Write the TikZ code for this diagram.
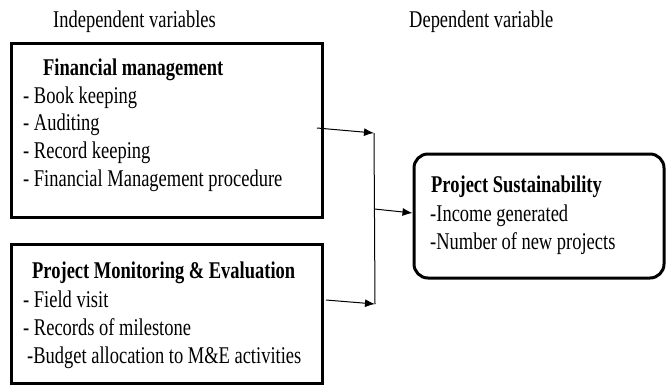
\documentclass[tikz,border=0pt]{standalone}
\usepackage{graphicx}
\usepackage{fontspec}
\setmainfont{Liberation Serif}
\usetikzlibrary{arrows.meta}
\newcommand{\narrowtxt}[1]{\scalebox{0.77}[1]{#1}}
\begin{document}
\begin{tikzpicture}[x=1pt,y=-1pt,
  box/.style={draw, line width=3pt, anchor=north west, inner sep=0pt, outer sep=0pt},
  txt/.style={anchor=base west, inner sep=0pt, font=\fontsize{24}{28}\selectfont},
  conn/.style={line width=1pt},
  arr/.style={-{Latex[length=10pt,width=8pt]}, line width=1pt}]
\useasboundingbox (0,0) rectangle (666,386);
% boxes
\node[box, minimum width=310.5pt, minimum height=174pt] (fm) at (11.5,43.5) {};
\node[box, minimum width=310.5pt, minimum height=139.5pt] (me) at (11.5,244) {};
\node[box, rounded corners=14pt, minimum width=250pt, minimum height=124pt] (ps) at (414,154) {};
% headers
\node[txt] (h1) at (53,27) {\narrowtxt{Independent variables}};
\node[txt] (h2) at (409,27) {\narrowtxt{Dependent variable}};
% box 1 text
\node[txt] (t1) at (43,75) {\narrowtxt{\textbf{Financial management}}};
\node[txt] (t2) at (23,103) {\narrowtxt{- Book keeping}};
\node[txt] (t3) at (23,130) {\narrowtxt{- Auditing}};
\node[txt] (t4) at (23,158) {\narrowtxt{- Record keeping}};
\node[txt] (t5) at (23,186) {\narrowtxt{- Financial Management procedure}};
% box 2 text
\node[txt] (u1) at (32,278) {\narrowtxt{\textbf{Project Monitoring \& Evaluation}}};
\node[txt] (u2) at (23,307) {\narrowtxt{- Field visit}};
\node[txt] (u3) at (23,335) {\narrowtxt{- Records of milestone}};
\node[txt] (u4) at (27,363) {\narrowtxt{-Budget allocation to M\&E activities}};
% box 3 text
\node[txt] (v1) at (431,192) {\narrowtxt{\textbf{Project Sustainability}}};
\node[txt] (v2) at (430,221) {\narrowtxt{-Income generated}};
\node[txt] (v3) at (430,249) {\narrowtxt{-Number of new projects}};
% connector points
\coordinate (a1) at (317,128);
\coordinate (j1) at (374,133);
\coordinate (a2) at (326,300);
\coordinate (j2) at (375,304);
\coordinate (m1) at (374.5,209);
\coordinate (m2) at (412.5,213);
% connectors
\draw[conn] (j1) -- (j2);
\draw[arr] (a1) -- (j1);
\draw[arr] (a2) -- (j2);
\draw[arr] (m1) -- (m2);
\end{tikzpicture}
\end{document}
